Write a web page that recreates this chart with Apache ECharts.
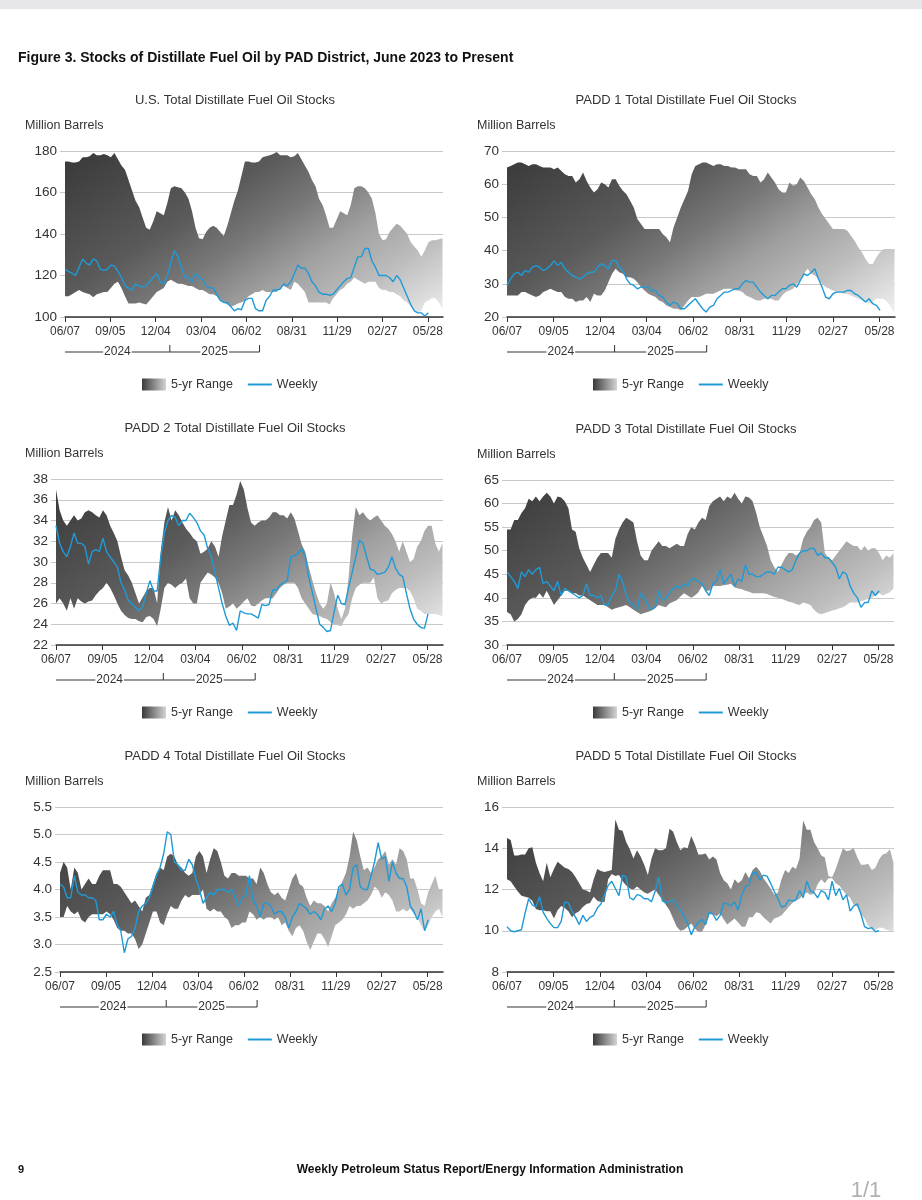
<!DOCTYPE html>
<html>
<head>
<meta charset="utf-8">
<title>Stocks of Distillate Fuel Oil by PAD District</title>
<script src="https://cdn.jsdelivr.net/npm/echarts@6/dist/echarts.min.js"></script>
<style>
  html, body { margin: 0; padding: 0; background: #fff; }
  #page { width: 922px; height: 1200px; }
</style>
</head>
<body>
<div id="page"></div>
<script>
// x axis: days since 06/07, one point per week
var WEEK = 7;
var tickLabels = ['06/07', '09/05', '12/04', '03/04', '06/02', '08/31', '11/29', '02/27', '05/28'];
var tickDays = tickLabels.map(function (t, i) { return i * 90; });
var yearLabels = ['2024', '2025'];
var yearBreaks = [0, 208, 386];   // day of bracket start, year change, bracket end

// U.S. total, million barrels
var usHigh = [175,175,174.5,174.5,175,177,177,177.5,179,178, 178,178.5,178,177,179,176,173,171,166,161,
  156,153,148,143,142,146,151,150,149,155, 162,163,162.5,162,160,157,151,143,138,137.5,
  141,143,144,143,141,139,144,150,156,161, 168,175,175,174.5,174.5,175,177,177.5,178,178.5,
  179.5,178,178,178,177,177.5,179,176,173,170, 166,163,157,154,149,143,143,147,151,150,
  149,154,162,163,163,162,160,157,150,140, 137,137.5,141,143,145,144,142,140,136,134,
  132,129,132,136,137,137,137.5,138];
var usLow = [110,110,111,112,113,112,111.5,111,109.5,111, 111.5,112,112,114,116,117,114,110,106.5,106.5,
  106.5,107,106.5,106,108,110,112,113,114,117, 118,117,116,116,115.5,115,115,114,113,113,
  112,111,111,110,108,107,106,105,105.5,106.5, 107,108,110,111,112,112,113,112,112,112,
  112,114,115,114,113,117,116,114,112,107, 107,107,107,107,107,106,109,111,113,114,
  116,117,119,118,117,116,117,117,117,114, 113,113,112,112,111,110,108,107,105,103,
  102,103,107,108,109,109,107,104];
var usWeekly = [123,122,121,120,124,128,126,125,128,127, 123,122.5,123,125,124.5,122,119,115,114,113,
  116,115,114.5,115,117,119,121,117,116,120, 126,132,129,124,119,119,117,121,119,118,
  115,114,114,111,108,107,107,105,103,104, 103.5,108,109,109,104,103,103,108,110,113,
  113,113.5,116,115,117,121,125,123.5,123.5,121, 117,115,112,111,111,110.5,111,113,115,117,
  118.5,119,124,129,129,133,133,127,124,120, 120,120,119,117,120,118,114,110,106,103,
  102,102,100.5,102];

// PADD 1
var p1High = [65,65.5,66,66.5,66.5,66,65.5,66,66,65.5, 65,65,65,64.5,65,64,63,62.5,62.5,60.5,
  61.5,63.5,61,59,57.5,58.5,60.5,60,59,61.5, 61.5,59.5,58,57,55,53,49.5,48,46.5,46.5,
  46.5,46.5,46.5,45,44,42.5,47,50,53,55.5, 58,63,65.5,66,66.5,66.5,66,65.5,66,66,
  65.5,65.5,65,65,64.5,64.5,64.5,63,62.5,62.5, 60.5,61.5,63.5,62,60.5,58.5,57.5,57.5,60.5,59.5,
  60,62,61,59,57,55.5,53,51,49.5,48, 46.5,46.5,46.5,46.5,46,44.5,43,41,39.5,37.5,
  36,36,38,39.5,40.5,40.5,40.5,40.5];
var p1Low = [26.5,26.5,26.5,26.5,27.5,27.5,27,26.5,26,26.5, 27.5,28,28.5,28,27.5,27.5,26,25.5,25.5,24.5,
  25,25,26,24.5,27,26.5,26.5,28,30.5,33, 34.5,33.5,33,32,32,31.5,30.5,29,28,27,
  26.5,26,25,24.5,23.5,23,22.5,22.5,22,23.5, 25,26,26,26,26.5,27,27,27,27.5,28,
  28.5,28.5,28.5,28,28,27.5,26.5,26,25.5,25, 25,25.5,25.5,25.5,25,25,26.5,27.5,28,28.5,
  30,31,33,34.5,33,32.5,31.5,30,29,28.5, 28,27.5,27.5,27,27,26.5,26,25.5,25,24.5,
  24,24.5,25.5,25.5,25.5,24.5,23,21];
var p1Weekly = [29.5,31.5,33,33.5,32.5,34,33.5,35,35.5,35, 34,34.5,35.5,37,35.5,36.5,34.5,33.5,32.5,32,
  31.5,32,33,33.5,33.5,35,36,35.5,34.5,37, 37,35,34,31.5,30,29.5,28.5,29,29,29,
  28,28,26.5,26,24.5,23.5,24.5,24,22.5,22.5, 23.5,24.5,25.5,24,22.5,21.5,23,23.5,25.5,26.5,
  27.5,27.5,28,28.5,28.5,30,31,30.5,30.5,29, 27.5,26.5,25.5,26.5,26.5,27.5,28.5,28.5,29.5,30,
  29,31,33,32.5,33.5,34.5,31.5,29,26,25.5, 27,27.5,27.5,27.5,28,28,27,26.5,25.5,24.5,
  25.5,24,23.5,22];

// PADD 2
var p2High = [37,35,34,33.5,34,34.5,34,34.2,34.8,35, 34.8,34.5,34.3,35,34.5,33.5,32.8,32,30.5,29.2,
  28.7,28,27,26,26.6,27.2,27.5,27.5,26,31, 33.8,35.3,34,35,34.5,33.8,33.2,32.8,32.3,32,
  30.8,31,31.3,32,31.5,30.5,32.5,34,35.5,35.5, 36.5,37.8,37,35.2,33.8,33.5,33.8,34,34,34.3,
  34.8,34.8,34.5,34.5,34.2,34.8,34.2,33,31.7,31, 29.5,28.2,27,26,25.5,26,28,27,25.5,24.5,
  25.5,28.5,32.5,35.3,34.5,34.8,34.3,34,34.3,34.5, 34,33.5,33.2,32.7,32,31,32,31,30,30.3,
  31.5,32,33,33.5,33.5,31.8,31,31.8];
var p2Low = [26,26.5,26,25.3,26.5,25.5,26.5,26.2,26,26.2, 26.3,26.8,27.2,27.5,28,27.5,26.8,26,25.3,24.9,
  24.6,24.5,24.5,24.3,24.2,24.7,24.8,24.5,23.8,25.5, 27.5,28,27.8,27.5,27.8,28,28.4,26.5,26,26,
  28,28.5,29,28.8,28.5,28,27,25.5,25.7,26, 25.5,25.8,26.2,26.5,25.8,25.7,26,26.3,26.5,26.5,
  26.5,27,27.5,27.8,28,28,28,27.5,26.5,26, 25.5,25,24.9,24.8,24.6,24.5,24.2,24,23.9,23.8,
  24.5,25,26.5,27.5,27.8,28,28,28,28.5,26.5, 26,26.2,26.3,27,27.3,27.5,27.5,27.5,27.2,26.5,
  25.5,25.3,25,25,25,25,24.9,24.8];
var p2Weekly = [33.5,31.8,31,30.5,31.5,32.8,31.8,31.8,31.5,29.8, 31,31.2,31,32.3,31,30.5,30,29.5,28,27.3,
  26.3,26,25.6,25.3,25.7,27,28.2,27.2,27.2,30.5, 32.8,34,34.5,34.3,33.5,34,34,34.7,34.3,33.8,
  33,32.6,31.3,30.5,29,27.5,26,24.8,23.9,24.1, 23.4,25.3,25.1,25,25,24.8,24.6,25.9,25.8,25.9,
  27.3,27.3,27.8,28,28.2,30.5,30.6,30.8,31.3,30.5, 28.5,27,25.5,24,23.7,23.3,23.4,25.2,26.8,26,
  25.9,27.5,29,30.5,32.1,31.8,30.5,29.3,29.2,28.8, 28.9,29,29.5,30.5,29.4,28.8,28.6,27,25.5,24.5,
  24,23.7,23.6,25];

// PADD 3
var p3High = [54.5,54.5,56.5,56.5,58,59,61,60.5,61.5,60.5, 61.5,62.3,61.5,60,61.5,61.3,60.5,59,54.5,54,
  50.5,48.5,47,45.5,47,48.5,49.5,49.5,49.5,48.5, 52.5,54.5,56,57,56.5,56,52,49,48,48,
  50,51,52,51,51,50.5,51,51.5,51,51, 53.5,55,54.5,56,57,56.5,59.5,60.5,61,61.5,
  60.5,61.5,61,62.3,61,60,61.5,61.3,60.5,58, 55,53,51,48,46.5,45.5,47,48.5,49.5,49.5,
  49,49.5,52.5,54,55,56.5,57,56,49.5,48.5, 48,49,50,51,52,51.5,51,51,50,51,
  50,50.5,50.5,49.5,48,49,48.5,49.5];
var p3Low = [37,36.5,35,35.5,36.5,38.5,39.5,40,40,41, 40,41.5,40,38.5,39.5,40.5,41.5,41.5,41,41,
  40.5,40.5,40,39.5,39,38.5,38.5,38.5,38,37.5, 37.8,38,38.2,38.5,38,37.5,37,36.5,36.8,37,
  37.3,37.8,38.5,38.2,38,38.8,39.2,39.5,40.3,41, 40.5,40,40.5,41.2,42.5,41.5,41.5,42.5,42.5,42.5,
  42.7,42.8,43,42.2,42,41.8,41.5,41.3,41,41, 41,41,40.8,40.5,40.2,40,39.8,39.5,39.2,39,
  38.7,38.5,39,38.8,38.5,37.5,36.8,36.5,36.8,37, 37.3,37.5,37.8,38,38.5,39,39,39,39.3,39.5,
  39.8,40,40.5,41,40.5,40.8,41.2,42];
var p3Weekly = [45.5,44.5,43.5,42,45.5,44.5,46,45,46,46.5, 43,43.5,42.5,41.5,43.5,40.5,42,41.5,41,40.5,
  40,40.5,43,40.5,40.5,40,40.5,38.5,38.5,40.5, 41.5,45,43.5,40.5,39,38.5,37.5,41,40,38.5,
  37.5,38,41.5,39.5,40,41,42,42.5,42,43, 42.5,44,44,43.5,43,41.5,40.5,43,43.5,46,
  43,44,45,42.5,44,43.5,47,45,45,44.5, 44.5,45,45.5,45.5,45,46.5,46.5,46,45.5,46,
  48,49.5,50,50,50.5,50.5,49,49.5,48.5,48.5, 47.5,46.5,44,45.5,45,42.5,41,40,38,39,
  39,41.5,40.5,41.5];

// PADD 4
var p4High = [4.3,4.5,4.4,4.0,4.4,4.3,4.0,4.1,4.2,4.1, 4.1,4.25,4.35,4.35,4.35,4.1,4.1,4.05,3.95,3.85,
  3.75,3.8,3.7,3.6,3.85,3.9,4.1,4.3,4.4,4.35, 4.6,4.65,4.6,4.45,4.4,4.3,4.25,4.3,4.6,4.7,
  4.6,4.3,4.55,4.75,4.7,4.5,4.25,4.2,4.3,4.3, 4.25,4.25,4.25,4.2,4.2,4.1,4.4,4.3,4.1,3.95,
  3.9,3.95,3.85,3.8,4.0,4.2,4.3,4.1,4.05,3.85, 3.7,3.8,3.75,3.75,3.7,3.6,3.75,3.85,4.0,4.15,
  4.3,4.6,5.05,4.9,4.6,4.35,4.4,4.3,4.4,4.55, 4.6,4.7,4.45,4.55,4.45,4.75,4.7,4.55,4.2,4.2,
  4.0,3.75,3.7,3.95,4.1,4.25,4.0,4.0];
var p4Low = [3.5,3.5,3.7,3.6,3.55,3.6,3.45,3.4,3.5,3.55, 3.55,3.55,3.55,3.6,3.55,3.45,3.3,3.25,3.25,3.2,
  3.2,3.1,2.92,3.0,3.2,3.4,3.6,3.6,3.4,3.35, 3.55,3.7,3.65,3.65,3.8,3.9,3.85,3.9,3.9,3.9,
  4.0,3.65,3.6,3.65,3.6,3.6,3.5,3.45,3.3,3.35, 3.35,3.4,3.4,3.6,3.55,3.45,3.5,3.45,3.5,3.5,
  3.45,3.5,3.35,3.4,3.25,3.15,3.3,3.35,3.25,3.05, 2.9,3.05,3.2,3.2,3.1,2.95,3.15,3.35,3.4,3.45,
  3.55,3.7,3.65,3.7,3.7,3.75,3.8,3.9,4.05,4.0, 3.85,3.95,3.9,3.8,3.6,3.6,3.65,3.6,3.65,3.55,
  3.5,3.35,3.25,3.35,3.5,3.6,3.65,3.5];
var p4Weekly = [4.1,4.05,3.85,3.85,4.25,3.95,3.9,3.9,3.85,3.85, 3.8,3.45,3.45,3.55,3.5,3.6,3.35,3.25,2.85,3.1,
  3.15,3.3,3.6,3.7,3.75,3.85,4.05,4.25,4.4,4.65, 5.05,5.0,4.5,4.45,4.35,4.35,4.55,4.45,4.2,4.0,
  3.75,3.85,3.95,3.9,4.0,4.0,4.0,3.95,4.0,3.85, 3.7,3.85,3.9,4.25,3.8,3.7,3.5,3.75,3.75,3.7,
  3.55,3.6,3.6,3.5,3.3,3.5,3.6,3.75,3.7,3.65, 3.55,3.6,3.55,3.45,3.65,3.7,3.6,3.75,4.05,4.1,
  3.9,4.0,4.4,4.45,4.05,4.0,4.0,4.25,4.5,4.85, 4.55,4.6,4.15,4.5,4.3,4.2,4.2,4.05,3.7,3.6,
  3.45,3.65,3.25,3.45];

// PADD 5
var p5High = [14.5,14.4,13.65,13.65,13.7,13.7,14.0,14.05,13.3,12.8, 12.4,13.3,12.6,13.0,13.35,13.2,13.05,13.0,12.85,12.6,
  12.3,12.0,11.95,11.85,12.5,13.0,12.9,12.85,12.9,12.95, 15.4,14.9,14.85,14.3,13.95,13.5,13.9,13.6,13.2,12.7,
  13.5,14.0,13.9,13.9,14.0,14.95,14.8,14.3,13.9,14.05, 14.0,14.6,14.2,13.7,13.7,13.75,13.45,13.6,13.45,12.8,
  12.45,12.3,12.0,12.5,12.3,12.45,12.85,12.55,12.95,13.1, 12.9,12.55,12.3,12.05,11.75,11.85,12.5,12.95,12.8,13.1,
  13.0,13.5,15.35,14.9,14.9,14.3,14.0,13.65,13.55,12.65, 12.6,13.0,13.5,14.0,13.85,13.9,14.0,13.55,13.2,13.2,
  13.25,12.95,13.05,13.45,13.7,13.75,13.95,13.3];
var p5Low = [12.5,12.4,12.15,11.9,11.7,11.65,11.6,11.45,11.05,11.0, 11.0,10.95,10.95,10.6,11.0,11.2,11.1,10.95,10.65,10.85,
  10.95,11.15,11.3,11.35,11.65,11.45,11.4,11.4,12.5,12.75, 12.65,12.7,12.4,12.2,12.05,12.0,12.15,12.0,11.85,11.8,
  11.9,12.0,11.75,11.5,11.25,11.0,10.6,10.2,10.0,10.05, 10.2,10.35,10.1,9.95,9.95,10.3,10.8,10.8,10.7,10.85,
  10.55,10.3,10.45,10.6,10.4,10.2,10.2,10.65,10.65,10.9, 10.85,10.65,10.5,10.35,10.6,10.65,10.75,10.95,11.15,11.35,
  11.45,11.55,11.75,11.85,11.75,11.8,12.25,12.5,12.3,12.55, 12.55,12.3,12.2,11.95,11.75,11.6,11.25,11.15,10.8,10.6,
  10.25,10.05,10.05,10.15,10.15,10.05,10.0,10.0];
var p5Weekly = [10.2,10.0,9.95,10.0,10.05,10.85,11.55,11.25,11.15,11.65, 10.9,10.6,10.35,10.15,10.15,10.45,11.4,11.35,10.95,10.65,
  10.3,10.75,10.45,10.65,10.75,11.1,11.3,11.75,12.2,12.4, 12.05,11.7,12.7,12.6,11.6,11.5,11.75,11.7,11.55,11.55,
  11.4,11.9,12.6,11.45,11.35,11.4,11.5,11.25,11.0,10.7, 10.35,9.8,10.2,10.4,10.55,10.3,10.9,10.8,10.5,10.75,
  11.35,11.3,11.2,11.4,11.0,11.75,12.15,12.2,12.8,12.85, 12.45,12.7,12.65,12.3,11.9,11.55,11.15,11.2,11.5,11.45,
  11.5,11.95,11.6,12.4,11.95,11.85,11.6,11.95,11.85,11.5, 12.4,11.7,12.05,11.5,11.75,10.95,11.2,11.3,10.8,10.2,
  10.1,10.15,9.95,10.0];

// panel layout (page pixels)
var panels = [
  { title: 'U.S. Total Distillate Fuel Oil Stocks', high: usHigh, low: usLow, weekly: usWeekly,
    yMin: 100, yMax: 180, yStep: 20, dec: 0, left: 65, top: 151, right: 443, bottom: 317, cx: 235 },
  { title: 'PADD 1 Total Distillate Fuel Oil Stocks', high: p1High, low: p1Low, weekly: p1Weekly,
    yMin: 20, yMax: 70, yStep: 10, dec: 0, left: 507, top: 151, right: 895, bottom: 317, cx: 686 },
  { title: 'PADD 2 Total Distillate Fuel Oil Stocks', high: p2High, low: p2Low, weekly: p2Weekly,
    yMin: 22, yMax: 38, yStep: 2, dec: 0, left: 56, top: 479, right: 443, bottom: 645, cx: 235 },
  { title: 'PADD 3 Total Distillate Fuel Oil Stocks', high: p3High, low: p3Low, weekly: p3Weekly,
    yMin: 30, yMax: 65, yStep: 5, dec: 0, left: 507, top: 480, right: 894, bottom: 645, cx: 686 },
  { title: 'PADD 4 Total Distillate Fuel Oil Stocks', high: p4High, low: p4Low, weekly: p4Weekly,
    yMin: 2.5, yMax: 5.5, yStep: 0.5, dec: 1, left: 60, top: 807, right: 443, bottom: 972, cx: 235 },
  { title: 'PADD 5 Total Distillate Fuel Oil Stocks', high: p5High, low: p5Low, weekly: p5Weekly,
    yMin: 8, yMax: 16, yStep: 2, dec: 0, left: 507, top: 807, right: 894, bottom: 972, cx: 686 }
];

var FONT = '"Liberation Sans", Arial, Helvetica, sans-serif';
var TEXT = '#333';
var BLUE = '#1f9ad6';
var X_MAX = 750;

var bandStops = [
  { offset: 0, color: '#383838' },
  { offset: 0.35, color: '#5a5a5a' },
  { offset: 0.5, color: '#787878' },
  { offset: 0.65, color: '#a0a0a0' },
  { offset: 0.8, color: '#bdbdbd' },
  { offset: 1, color: '#f0f0f0' }
];

// gradient over the plot area, running mostly left to right with a downward lean
function bandFill(cs) {
  return new echarts.graphic.LinearGradient(
    cs.x, cs.y, cs.x + 0.5 * cs.width, cs.y + 1.75 * cs.height, bandStops, true);
}

function legendFill() {
  return new echarts.graphic.LinearGradient(0, 0, 1, 0, [
    { offset: 0, color: '#3a3a3a' },
    { offset: 1, color: '#d4d4d4' }
  ]);
}

var grids = [], xAxes = [], yAxes = [], series = [], legends = [];

panels.forEach(function (p, k) {
  grids.push({
    left: p.left, top: p.top, width: p.right - p.left, height: p.bottom - p.top,
    outerBoundsMode: 'none', containLabel: false
  });
  xAxes.push({
    type: 'value', gridIndex: k, min: 0, max: X_MAX,
    axisLine: { show: true, lineStyle: { color: '#333', width: 1.5 } },
    axisTick: { show: true, length: 5, customValues: tickDays, lineStyle: { color: '#333' } },
    axisLabel: {
      customValues: tickDays, margin: 9, fontSize: 12, color: TEXT, fontFamily: FONT,
      formatter: function (v) { return tickLabels[Math.round(v / 90)] || ''; }
    },
    splitLine: { show: false }
  });
  yAxes.push({
    type: 'value', gridIndex: k, min: p.yMin, max: p.yMax, interval: p.yStep,
    axisLine: { show: false },
    axisTick: { show: true, length: 5, lineStyle: { color: '#c8c8c8' } },
    axisLabel: {
      margin: 8, fontSize: 13.5, color: TEXT, fontFamily: FONT,
      formatter: function (v) { return v.toFixed(p.dec); }
    },
    splitLine: { show: true, lineStyle: { color: '#c8c8c8', width: 1 } }
  });
  series.push({
    type: 'custom', name: '5-yr Range', xAxisIndex: k, yAxisIndex: k,
    data: [[0, p.yMin]], silent: true, z: 1,
    itemStyle: { color: legendFill() },
    renderItem: function (params, api) {
      var pts = [];
      p.high.forEach(function (v, i) { pts.push(api.coord([i * WEEK, v])); });
      for (var i = p.low.length - 1; i >= 0; i--) pts.push(api.coord([i * WEEK, p.low[i]]));
      return { type: 'polygon', shape: { points: pts }, style: { fill: bandFill(params.coordSys) } };
    }
  });
  series.push({
    type: 'line', name: 'Weekly', xAxisIndex: k, yAxisIndex: k, z: 3,
    data: p.weekly.map(function (v, i) { return [i * WEEK, v]; }),
    symbol: 'none', showSymbol: false, silent: true,
    lineStyle: { color: BLUE, width: 1.4 }, itemStyle: { color: BLUE }
  });
  legends.push({
    left: (k % 2 === 0 ? 142 : 593), top: p.bottom + 61, padding: 0,
    itemWidth: 24, itemHeight: 12, itemGap: 15, selectedMode: false, symbolKeepAspect: true,
    textStyle: { fontSize: 12.5, color: TEXT, fontFamily: FONT },
    data: [
      { name: '5-yr Range', icon: 'rect', itemStyle: { color: legendFill() } },
      { name: 'Weekly', icon: 'path://M0,0H24V2H0Z', itemStyle: { color: BLUE, borderWidth: 0 } }
    ]
  });
});

var chart = echarts.init(document.getElementById('page'), null, { renderer: 'canvas' });
chart.setOption({
  backgroundColor: '#fff',
  animation: false,
  grid: grids, xAxis: xAxes, yAxis: yAxes, series: series, legend: legends
});

// static texts and year brackets
var graphics = [
  { type: 'rect', shape: { x: 0, y: 0, width: 922, height: 9 }, style: { fill: '#e6e6e8' } },
  { type: 'text', x: 18, y: 58.5, style: { text: 'Figure 3. Stocks of Distillate Fuel Oil by PAD District, June 2023 to Present',
    font: 'bold 14px ' + FONT, fill: '#111', verticalAlign: 'middle' } },
  { type: 'text', x: 18, y: 1170, style: { text: '9', font: 'bold 11px ' + FONT, fill: '#111', verticalAlign: 'middle' } },
  { type: 'text', x: 490, y: 1170, style: { text: 'Weekly Petroleum Status Report/Energy Information Administration',
    font: 'bold 12px ' + FONT, fill: '#111', align: 'center', verticalAlign: 'middle' } },
  { type: 'text', x: 866, y: 1191, style: { text: '1/1', font: '22px ' + FONT, fill: '#b0b0b0', align: 'center', verticalAlign: 'middle' } }
];

panels.forEach(function (p, k) {
  graphics.push({ type: 'text', x: p.cx, y: p.top - 51, style: { text: p.title,
    font: '13px ' + FONT, fill: TEXT, align: 'center', verticalAlign: 'middle' } });
  graphics.push({ type: 'text', x: (k % 2 === 0 ? 25 : 477), y: p.top - 25.5, style: { text: 'Million Barrels',
    font: '12.5px ' + FONT, fill: TEXT, verticalAlign: 'middle' } });

  var xs = yearBreaks.map(function (d) { return chart.convertToPixel({ xAxisIndex: k }, d); });
  var yb = p.bottom + 35;
  graphics.push({ type: 'polyline', shape: { points: [[xs[0], yb], [xs[2], yb], [xs[2], yb - 7]] },
    style: { stroke: '#333', lineWidth: 1, fill: null } });
  graphics.push({ type: 'line', shape: { x1: xs[1], y1: yb, x2: xs[1], y2: yb - 7 },
    style: { stroke: '#333', lineWidth: 1 } });
  yearLabels.forEach(function (lab, j) {
    graphics.push({ type: 'text', x: (xs[j] + xs[j + 1]) / 2, y: yb, z: 10, style: { text: lab,
      font: '12px ' + FONT, fill: TEXT, align: 'center', verticalAlign: 'middle',
      backgroundColor: '#fff', padding: [0, 1] } });
  });
});

chart.setOption({ graphic: graphics });
</script>
</body>
</html>
